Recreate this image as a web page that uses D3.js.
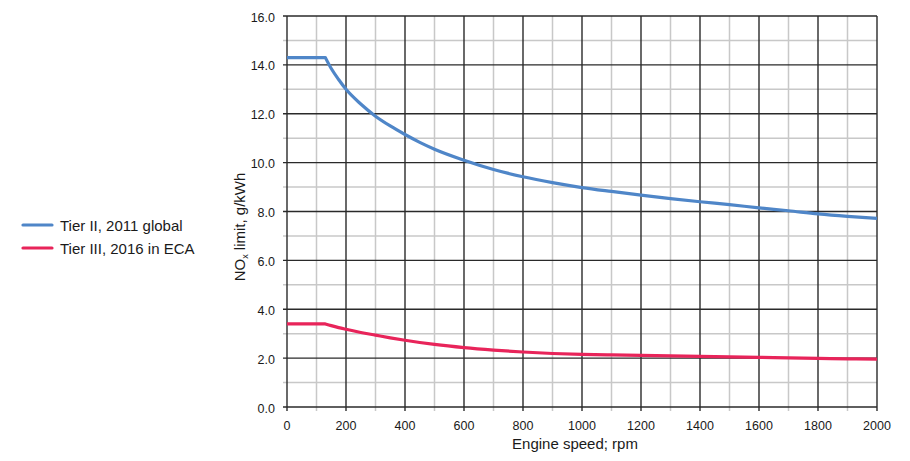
<!DOCTYPE html>
<html><head><meta charset="utf-8">
<script src="https://cdn.jsdelivr.net/npm/d3@7"></script>
<style>body{margin:0;background:#fff}svg{display:block}text{font-family:"Liberation Sans",Arial,sans-serif}</style>
</head><body><svg id="c" width="910" height="461"></svg>
<script>
const speeds = [0,130,150,175,200,250,300,350,400,450,500,600,700,800,900,1000,1100,1200,1300,1400,1500,1600,1700,1800,1900,2000];
const tier2 = [14.3,14.3,13.85,13.4,13.0,12.4,11.9,11.5,11.15,10.83,10.55,10.1,9.72,9.42,9.18,8.98,8.82,8.67,8.53,8.4,8.28,8.15,8.03,7.9,7.8,7.72];
const tier3 = [3.4,3.4,3.33,3.25,3.18,3.05,2.94,2.83,2.73,2.64,2.56,2.43,2.33,2.25,2.19,2.15,2.13,2.11,2.09,2.07,2.05,2.03,2.01,1.99,1.97,1.96];
const seriesNames = ["Tier II, 2011 global","Tier III, 2016 in ECA"];
const colors = ["#4f86c8","#e8245a"];
const xTicks = d3.range(0,2001,200);
const yTicks = d3.range(0,16.1,2);

const svg = d3.select("#c");
const m = {l:287, r:877, t:16, b:407};
const x = d3.scaleLinear().domain([0,2000]).range([m.l,m.r]);
const y = d3.scaleLinear().domain([0,16]).range([m.b,m.t]);

const g = svg.append("g");
// minor grid
g.selectAll(".vx").data(d3.range(100,2000,200)).enter().append("line")
 .attr("x1",d=>x(d)).attr("x2",d=>x(d)).attr("y1",m.t).attr("y2",m.b+4)
 .attr("stroke","#c8c8c8").attr("stroke-width",1.5);
g.selectAll(".hy").data(d3.range(1,16,2)).enter().append("line")
 .attr("x1",m.l-4).attr("x2",m.r).attr("y1",d=>y(d)).attr("y2",d=>y(d))
 .attr("stroke","#c8c8c8").attr("stroke-width",1.5);
// major grid
g.selectAll(".Vx").data(xTicks).enter().append("line")
 .attr("x1",d=>x(d)).attr("x2",d=>x(d)).attr("y1",m.t).attr("y2",m.b+4)
 .attr("stroke","#2a2a2a").attr("stroke-width",1.4);
g.selectAll(".Hy").data(yTicks).enter().append("line")
 .attr("x1",m.l-4).attr("x2",m.r).attr("y1",d=>y(d)).attr("y2",d=>y(d))
 .attr("stroke","#2a2a2a").attr("stroke-width",1.4);

// tick labels
g.selectAll(".xl").data(xTicks).enter().append("text")
 .attr("x",d=>x(d)).attr("y",m.b+23).attr("text-anchor","middle")
 .attr("font-size",12.5).attr("fill","#1a1a1a").text(d=>d);
g.selectAll(".yl").data(yTicks).enter().append("text")
 .attr("x",m.l-12).attr("y",d=>y(d)+5.5).attr("text-anchor","end")
 .attr("font-size",12.5).attr("fill","#1a1a1a").text(d=>d.toFixed(1));

// axis titles
svg.append("text").attr("x",575).attr("y",449).attr("text-anchor","middle")
 .attr("font-size",15).attr("fill","#1a1a1a").text("Engine speed; rpm");
const yt = svg.append("text").attr("transform",`translate(245,227) rotate(-90)`)
 .attr("text-anchor","middle").attr("font-size",15).attr("fill","#1a1a1a");
yt.append("tspan").text("NO");
yt.append("tspan").attr("font-size",9).attr("dy",3).text("x");
yt.append("tspan").attr("dy",-3).text(" limit, g/kWh");

// lines: flat part linear, then smooth monotone curve from the corner
const pts = s => s.map((v,i)=>[x(speeds[i]), y(v)]);
const flat = d3.line().curve(d3.curveLinear);
const smooth = d3.line().curve(d3.curveMonotoneX);
[tier2,tier3].forEach((s,i)=>{
  const p = pts(s);
  const d = flat(p.slice(0,2)) + smooth(p.slice(1)).replace(/^M[^A-Za-z]*/, m2 => "L" + m2.slice(1));
  svg.append("path").attr("d",d).attr("fill","none")
   .attr("stroke",colors[i]).attr("stroke-width",3.2).attr("stroke-linejoin","round");
});

// legend
seriesNames.forEach((n,i)=>{
  const yy = 225 + i*23;
  svg.append("line").attr("x1",23).attr("x2",52).attr("y1",yy).attr("y2",yy)
   .attr("stroke",colors[i]).attr("stroke-width",3.2).attr("stroke-linecap","round");
  svg.append("text").attr("x",60).attr("y",yy+5.5).attr("font-size",15).attr("fill","#1a1a1a").text(n);
});
</script></body></html>
